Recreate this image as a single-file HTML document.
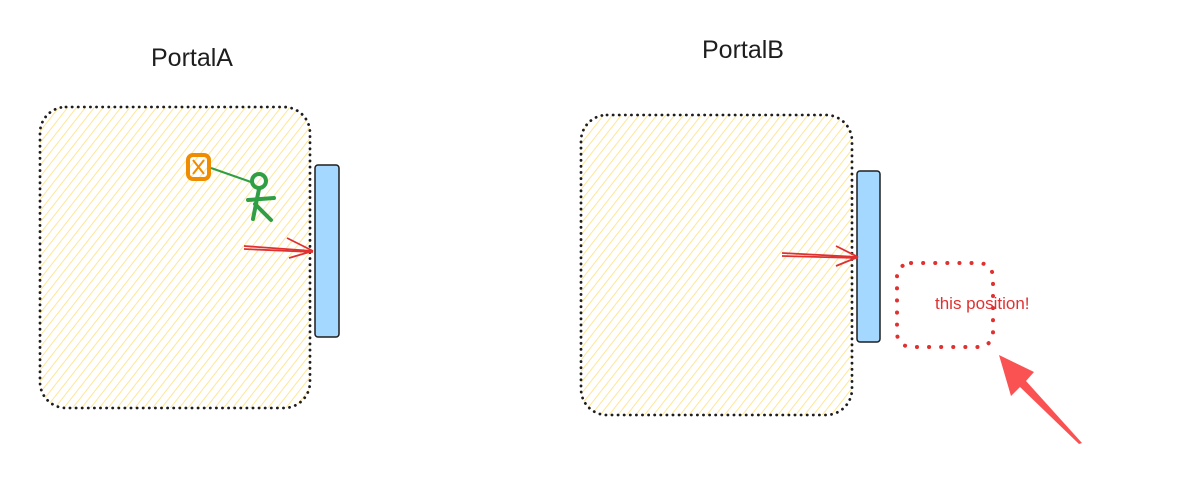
<!DOCTYPE html>
<html><head><meta charset="utf-8"><style>
html,body{margin:0;padding:0;background:#fff;}
svg{display:block;}
text{font-family:"Comic Sans MS","Liberation Sans",sans-serif;}
</style></head><body>
<svg width="1202" height="486" viewBox="0 0 1202 486">
<defs>
<pattern id="hatch" width="7" height="7" patternUnits="userSpaceOnUse" patternTransform="rotate(38)">
<line x1="0" y1="0" x2="0" y2="7" stroke="#ffe38a" stroke-width="1.8"/>
</pattern>
</defs>
<text x="192" y="66" text-anchor="middle" font-size="25" fill="#1e1e1e">PortalA</text>
<text x="743" y="58" text-anchor="middle" font-size="25" fill="#1e1e1e">PortalB</text>

<g>
<rect x="40" y="107" width="270" height="301" rx="26" fill="url(#hatch)" stroke="#1e1e1e" stroke-width="2.8" stroke-dasharray="0.1 6" stroke-linecap="round"/>
</g>
<rect x="315" y="165" width="24" height="172" rx="3" fill="#a5d8ff" stroke="#1e1e1e" stroke-width="1.5"/>
<g stroke="#e03131" stroke-width="1.8" fill="none">
<line x1="244" y1="246" x2="313" y2="251"/><line x1="244" y1="249" x2="313" y2="252"/>
<line x1="287" y1="238" x2="313" y2="251"/><line x1="289" y1="258" x2="313" y2="251"/>
</g>
<rect x="188" y="155" width="21" height="24" rx="5" fill="none" stroke="#f08c00" stroke-width="4"/>
<path d="M193 160 L204 174 M204 160 L193 174" stroke="#f08c00" stroke-width="2"/>
<line x1="211" y1="168" x2="251" y2="182" stroke="#2f9e44" stroke-width="2"/>
<g stroke="#2f9e44" stroke-width="4" fill="none" stroke-linecap="round">
<circle cx="259" cy="181" r="7"/>
<path d="M259 189 L253 219 M248 200 L274 198 M255 204 L271 220"/>
</g>

<g>
<rect x="581" y="115" width="271" height="300" rx="26" fill="url(#hatch)" stroke="#1e1e1e" stroke-width="2.8" stroke-dasharray="0.1 6" stroke-linecap="round"/>
</g>
<rect x="857" y="171" width="23" height="171" rx="3" fill="#a5d8ff" stroke="#1e1e1e" stroke-width="1.5"/>
<g stroke="#e03131" stroke-width="1.8" fill="none">
<line x1="782" y1="253" x2="858" y2="257"/><line x1="782" y1="256" x2="858" y2="258"/>
<line x1="836" y1="246" x2="858" y2="257"/><line x1="836" y1="266" x2="858" y2="257"/>
</g>
<rect x="897" y="263" width="96" height="84" rx="14" fill="none" stroke="#e03131" stroke-width="4" stroke-dasharray="0.1 12" stroke-linecap="round"/>
<text x="935" y="309" font-size="17" fill="#e03131">this position!</text>
<path d="M1082 443 L1026 381 L1034 372 L999 355 L1011 396 L1020 387 L1079 444 Z" fill="#fa5252"/>
</svg>
</body></html>
